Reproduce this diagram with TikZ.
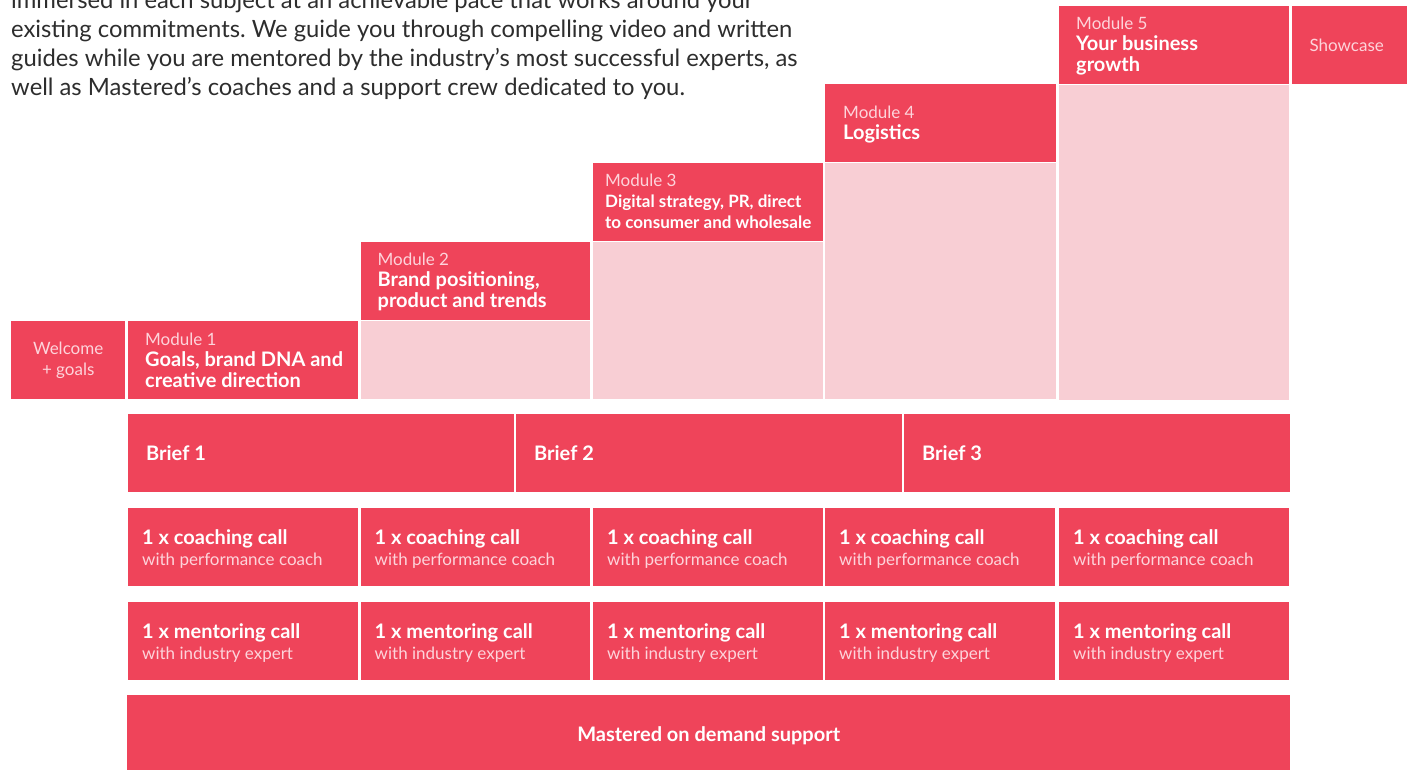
\documentclass[tikz,border=0pt]{standalone}
\usepackage{fontspec}
\setmainfont{Lato}
\usetikzlibrary{positioning}
\definecolor{mred}{RGB}{239,68,90}
\definecolor{mpale}{RGB}{248,206,212}
\definecolor{mlight}{RGB}{253,212,219}
\definecolor{mtext}{RGB}{45,45,45}
\newcommand\modlab[1]{{\color{mlight}\mdseries\fontsize{17}{21}\selectfont #1}}
\frenchspacing

\begin{document}
\begin{tikzpicture}[x=1pt,y=-1pt,
  box/.style={fill=mred,draw=none,inner sep=0pt,anchor=north west,minimum height=78},
  pale/.style={fill=mpale,draw=none,inner sep=0pt,anchor=north west},
  txt/.style={text=white,align=left,anchor=base west,inner sep=0pt,font=\fontsize{20}{21}\selectfont\bfseries},
  thin/.style={text=mlight,align=center,inner sep=0pt,font=\fontsize{17}{21}\selectfont}]
  \useasboundingbox (0,0) rectangle (1407,770);
  \clip (0,0) rectangle (1407,770);

  \node[text=mtext,align=left,anchor=base west,inner sep=0pt,font=\fontsize{23.8}{29}\selectfont] (intro) at (11,96)
    {immersed in each subject at an achievable pace that works around your\\
     existing commitments. We guide you through compelling video and written\\
     guides while you are mentored by the industry’s most successful experts, as\\
     well as Mastered’s coaches and a support crew dedicated to you.};

  % modules
  \node[box,minimum width=114] (welcome) at (11,321) {};
  \node[thin,anchor=base] at ([yshift=24]welcome.south) {Welcome\\+ goals};
  \node[box,minimum width=229.5] (m1) at (128,321) {};
  \node[txt] at ([xshift=17,yshift=12]m1.south west) {\modlab{Module 1}\\Goals, brand DNA and\\creative direction};
  \node[box,minimum width=229.5] (m2) at (360.5,242) {};
  \node[pale,minimum width=229.5,minimum height=78] (p2) at (m2.south west) {};
  \node[txt] at ([xshift=17,yshift=12.5]m2.south west) {\modlab{Module 2}\\Brand positioning,\\product and trends};
  \node[box,minimum width=229.5] (m3) at (593,163) {};
  \node[pale,minimum width=229.5,minimum height=157] (p3) at (m3.south west) {};
  \node[txt,font=\fontsize{17}{21}\selectfont\bfseries] at ([xshift=12,yshift=13]m3.south west) {\modlab{Module 3}\\Digital strategy, PR, direct\\to consumer and wholesale};
  \node[box,minimum width=231] (m4) at (825,84) {};
  \node[pale,minimum width=231,minimum height=236] (p4) at (m4.south west) {};
  \node[txt] at ([xshift=18,yshift=23]m4.south west) {\modlab{Module 4}\\Logistics};
  \node[box,minimum width=230] (m5) at (1059,6) {};
  \node[pale,minimum width=230,minimum height=315] (p5) at (m5.south west) {};
  \node[txt] at ([xshift=17,yshift=13]m5.south west) {\modlab{Module 5}\\Your business\\growth};
  \node[box,minimum width=115] (show) at (1292,6) {};
  \node[thin] at ([xshift=-3]show.center) {Showcase};

  % briefs
  \foreach \i/\x in {1/128,2/516,3/904}{
    \node[box,minimum width=385.5] (b\i) at (\x,414) {};
    \node[txt,anchor=west] at ([xshift=18]b\i.west) {Brief \i};
  }

  % calls
  \foreach \i/\x in {1/128,2/360.5,3/593,4/825,5/1059}{
    \node[box,minimum width=229.5] (c\i) at (\x,508) {};
    \node[txt] at ([xshift=14,yshift=21]c\i.south west) {1 x coaching call\\\modlab{with performance coach}};
    \node[box,minimum width=229.5] (e\i) at (\x,602) {};
    \node[txt] at ([xshift=14,yshift=21]e\i.south west) {1 x mentoring call\\\modlab{with industry expert}};
  }

  \node[box,minimum width=1163] (ods) at (127,695) {};
  \node[txt,anchor=center] at ([yshift=-2]ods.center) {Mastered on demand support};
\end{tikzpicture}
\end{document}
